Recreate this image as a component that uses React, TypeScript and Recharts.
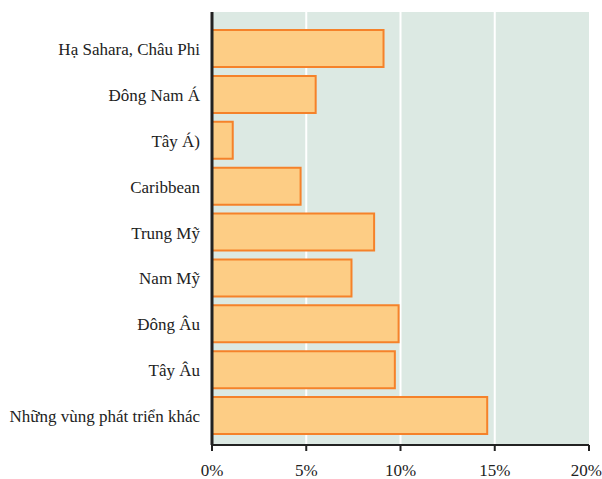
import { Bar, BarChart, CartesianGrid, XAxis, YAxis } from 'recharts'

const regions = [
  'Hạ Sahara, Châu Phi',
  'Đông Nam Á',
  'Tây Á)',
  'Caribbean',
  'Trung Mỹ',
  'Nam Mỹ',
  'Đông Âu',
  'Tây Âu',
  'Những vùng phát triển khác',
]
const shares = [9.1, 5.5, 1.1, 4.7, 8.6, 7.4, 9.9, 9.7, 14.6]
const xTicks = [0, 5, 10, 15, 20]

const data = regions.map((region, i) => ({ region, share: shares[i] }))

const font = '"Liberation Serif", "DejaVu Serif", serif'

export default function App() {
  return (
    <div style={{ width: 602, height: 479 }}>
      <style>{'body{margin:0}'}</style>
      <BarChart
        width={602}
        height={479}
        layout="vertical"
        data={data}
        margin={{ top: 12, right: 13, left: 0, bottom: 0 }}
        barSize={37}
      >
        <CartesianGrid horizontal={false} stroke="#ffffff" strokeWidth={2} fill="#dce9e3" verticalValues={[5, 10, 15]} />
        <XAxis
          type="number"
          domain={[0, 20]}
          ticks={xTicks}
          tickFormatter={(v) => `${v}%`}
          height={34}
          stroke="#222"
          strokeWidth={2}
          tickSize={6}
          tickMargin={13}
          tick={{ fill: '#222', fontSize: 17, fontFamily: font }}
        />
        <YAxis
          type="category"
          dataKey="region"
          width={212}
          stroke="#222"
          strokeWidth={3}
          tickLine={false}
          tickSize={0}
          tickMargin={12}
          padding={{ top: 14, bottom: 6 }}
          tick={{ fill: '#222', fontSize: 17, fontFamily: font }}
        />
        <Bar dataKey="share" fill="#fdcd85" stroke="#f5822a" strokeWidth={2} isAnimationActive={false} />
      </BarChart>
    </div>
  )
}
